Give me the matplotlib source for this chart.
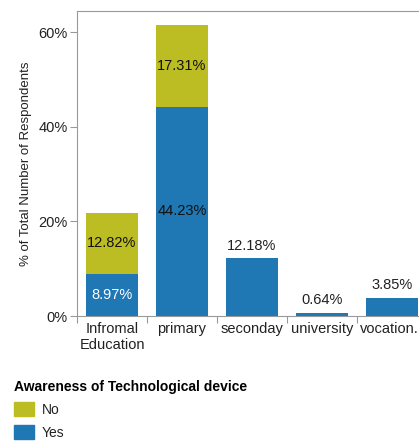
import matplotlib.pyplot as plt
from matplotlib.patches import Patch
from matplotlib.transforms import ScaledTranslation
import numpy as np

plt.rcParams['font.family'] = ['Liberation Sans', 'DejaVu Sans']

categories = ["Infromal\nEducation", "primary", "seconday", "university", "vocation."]
yes = [8.97, 44.23, 12.18, 0.64, 3.85]
no = [12.82, 17.31, 0, 0, 0]

c_yes = '#1f77b4'
c_no = '#bcbd22'
txt = '#222222'
edge = '#999999'

fig = plt.figure(figsize=(4.19, 4.42), dpi=100)
ax = fig.add_axes([77/419, 1-316/442, 350/419, 305/442])

x = np.arange(len(categories))
ax.bar(x, yes, width=0.74, color=c_yes)
ax.bar(x, no, width=0.74, bottom=yes, color=c_no)

# labels: centred when the bar is stacked, above it otherwise
for i in range(len(categories)):
    if no[i] > 0:
        col = 'white' if yes[i] < 10 else '#111111'
        ax.text(x[i], yes[i] / 2, '%.2f%%' % yes[i], ha='center', va='center',
                fontsize=10.5, color=col)
        ax.text(x[i], yes[i] + no[i] / 2, '%.2f%%' % no[i], ha='center', va='center',
                fontsize=10.5, color='#111111')
    else:
        ax.text(x[i], yes[i] + 1.2, '%.2f%%' % yes[i], ha='center', va='bottom',
                fontsize=10.5, color=txt)

ax.set_xlim(-0.5, len(categories) - 0.5)
ax.set_ylim(0, 64.5)
ax.set_yticks([0, 20, 40, 60])
ax.set_yticklabels(['0%', '20%', '40%', '60%'])
ax.set_xticks(np.arange(len(categories)) - 0.5)
ax.set_xticklabels([])
ax.set_xticks(x, minor=True)
ax.set_xticklabels(categories, minor=True)
ax.tick_params(axis='x', which='minor', length=0, pad=4, labelsize=10.5, labelcolor=txt)
ax.tick_params(axis='x', which='major', length=5, color=edge)
ax.tick_params(axis='y', length=5, color=edge, labelsize=10.5, labelcolor=txt, pad=1.5)
for s in ['left', 'bottom', 'top']:
    ax.spines[s].set_color(edge)
ax.spines['right'].set_visible(False)

# last label sits at the figure edge, nudge it in a little
last = ax.get_xticklabels(minor=True)[-1]
last.set_transform(last.get_transform() + ScaledTranslation(-3/100, 0, fig.dpi_scale_trans))

ax.set_ylabel('% of Total Number of Respondents', fontsize=9.5, color=txt, labelpad=5)

handles = [Patch(color=c_no), Patch(color=c_yes)]
leg = fig.legend(handles, ['No', 'Yes'], title='Awareness of Technological device',
                 loc='upper left', bbox_to_anchor=(8/419, 1-374/442), frameon=False,
                 fontsize=10, title_fontsize=10, handlelength=1.45, handleheight=1.2,
                 labelspacing=0.6, handletextpad=0.6, borderaxespad=0)
leg.get_title().set_fontweight('bold')
leg._legend_box.align = 'left'
for t in leg.get_texts():
    t.set_color(txt)

fig.savefig('out.png', dpi=100)
